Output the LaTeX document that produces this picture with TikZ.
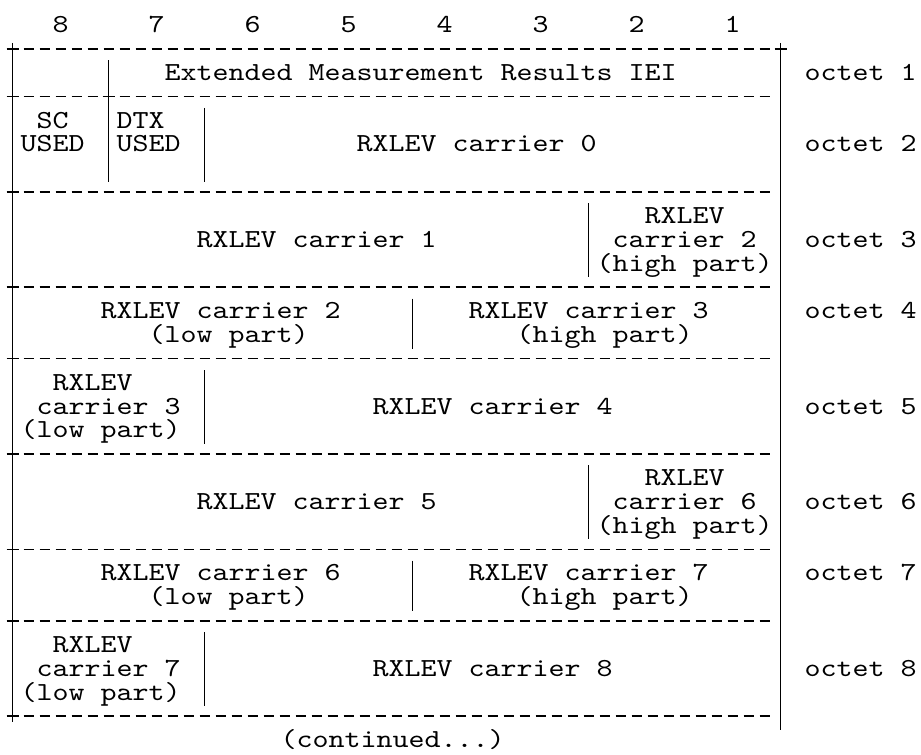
\documentclass[tikz,border=0pt]{standalone}
\usepackage{fontspec}
\newfontfamily\octfont{lmmono10-regular.otf}[FakeStretch=1.172]

\begin{document}
\begin{tikzpicture}[x=8pt,y=-11.915pt,line width=0.7pt,
  font=\octfont\fontsize{13pt}{13pt}\selectfont,
  txt/.style={anchor=base,yshift=-3.9pt,inner sep=0pt},
  rule/.style={dash pattern=on 5pt off 3pt,dash phase=6.5pt}]

% One unit is one character column across and one text line down.
\useasboundingbox (-0.79,-1.05) rectangle (56.77,30.59);

% Bit numbers over the columns.
\foreach \bit [count=\i from 0] in {8,...,1}
  \node[txt] (bit\bit) at (3+6*\i,0) {\bit};

% Outer frame and the horizontal rules.
\draw (0,0.75)--(0,29.25);
\draw (48,0.75)--(48,29.58);
\foreach \row in {1,7,11,14,18,22,25,29} {
  \draw[rule] (0.5,\row)--(47.5,\row);
  \draw (-0.375,\row)--(0.375,\row);
}
\draw[rule] (0.5,3)--(5.5,3);
\draw[rule] (6.5,3)--(47.5,3);
\draw (-0.375,3)--(0.375,3);
\draw (47.625,1)--(48.375,1);
\draw (5.625,3)--(6.375,3);

% Octet labels on the right.
\foreach \oct/\row in {1/2,2/5,3/9,4/12,5/16,6/20,7/23,8/27}
  \node[txt] (oct\oct) at (53,\row) {octet \oct};

% Octets 1 and 2.
\draw (6,1.47)--(6,6.58);
\draw (12,3.48)--(12,6.58);
\node[txt] (iei) at (25.5,2) {Extended Measurement Results IEI};
\node[txt] (sc) at (2.5,4) {SC};
\node[txt] (scused) at (2.5,5) {USED};
\node[txt] (dtx) at (8,4) {DTX};
\node[txt] (dtxused) at (8.5,5) {USED};
\node[txt] (rx0) at (29,5) {RXLEV carrier 0};

% Octets 3 and 6: a whole carrier, then the high part of the next one.
\foreach \row/\full/\high in {7/1/2,18/5/6} {
  \draw (36,\row+0.48)--(36,\row+3.58);
  \node[txt] (rx\full) at (19,\row+2) {RXLEV carrier \full};
  \node[txt] (hi\high a) at (42,\row+1) {RXLEV};
  \node[txt] (hi\high b) at (42,\row+2) {carrier \high};
  \node[txt] (hi\high c) at (42,\row+3) {(high part)};
}

% Octets 4 and 7: low part of one carrier, high part of the next.
\foreach \row/\low/\high in {11/2/3,22/6/7} {
  \draw (25,\row+0.48)--(25,\row+2.58);
  \node[txt] (lo\low a) at (13,\row+1) {RXLEV carrier \low};
  \node[txt] (lo\low b) at (13.5,\row+2) {(low part)};
  \node[txt] (hi\high a) at (36,\row+1) {RXLEV carrier \high};
  \node[txt] (hi\high b) at (37,\row+2) {(high part)};
}

% Octets 5 and 8: low part of one carrier, then a whole carrier.
\foreach \row/\low/\full in {14/3/4,25/7/8} {
  \draw (12,\row+0.48)--(12,\row+3.58);
  \node[txt] (lo\low a) at (5,\row+1) {RXLEV};
  \node[txt] (lo\low b) at (6,\row+2) {carrier \low};
  \node[txt] (lo\low c) at (5.5,\row+3) {(low part)};
  \node[txt] (rx\full) at (30,\row+2) {RXLEV carrier \full};
}

\node[txt] (cont) at (23.75,30) {(continued...)};
\end{tikzpicture}
\end{document}
